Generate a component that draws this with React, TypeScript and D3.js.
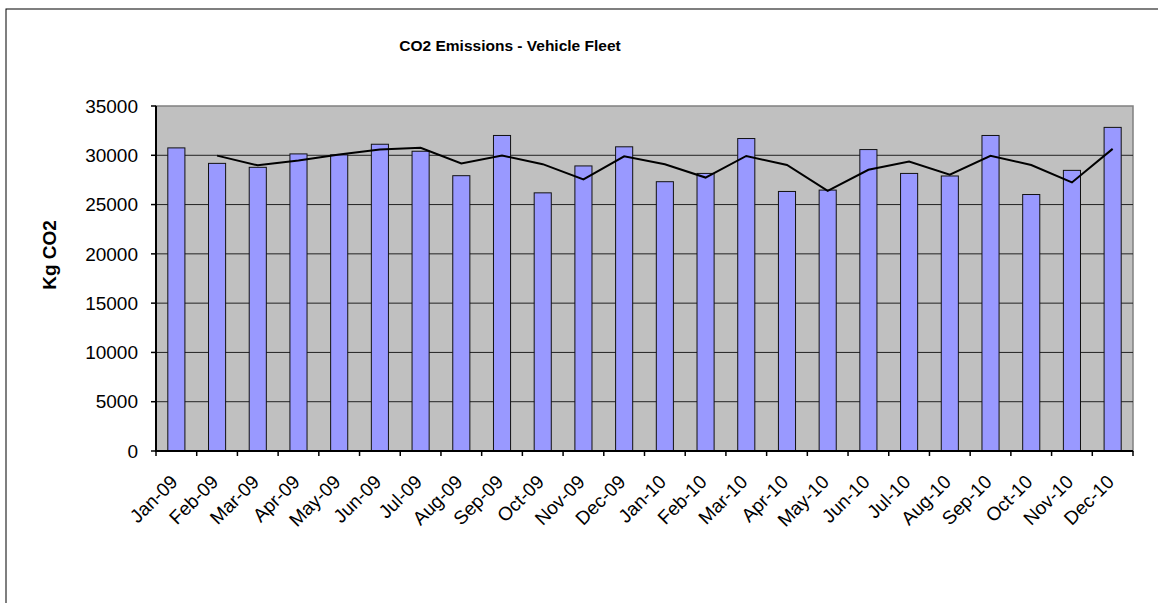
import React from "react";
import * as d3 from "d3";

const categories = [
  "Jan-09","Feb-09","Mar-09","Apr-09","May-09","Jun-09","Jul-09","Aug-09","Sep-09","Oct-09","Nov-09","Dec-09",
  "Jan-10","Feb-10","Mar-10","Apr-10","May-10","Jun-10","Jul-10","Aug-10","Sep-10","Oct-10","Nov-10","Dec-10",
];
const emissions = [
  30750, 29180, 28780, 30140, 30040, 31120, 30410, 27930, 32010, 26190, 28920, 30860,
  27320, 28160, 31700, 26330, 26470, 30580, 28160, 27900, 32010, 26020, 28470, 32830,
];
const yTicks = [0, 5000, 10000, 15000, 20000, 25000, 30000, 35000];
const title = "CO2 Emissions - Vehicle Fleet";
const yLabel = "Kg CO2";

// 2-period moving average trendline (as in the source chart)
const movingAvg = emissions.map((v, i) => (i === 0 ? null : (v + emissions[i - 1]) / 2));

const W = 1158, H = 603;
const plot = { left: 156, right: 1133, top: 106, bottom: 451 };
const FONT = "'Liberation Sans', Arial, sans-serif";

export default function App() {
  const x = d3.scaleBand<string>().domain(categories).range([plot.left, plot.right]).padding(0);
  const y = d3.scaleLinear().domain([0, 35000]).range([plot.bottom, plot.top]);
  const bw = x.bandwidth() * 0.42;
  const cx = (c: string) => (x(c) as number) + x.bandwidth() / 2;

  const line = d3
    .line<number | null>()
    .defined((d) => d !== null)
    .x((_, i) => cx(categories[i]))
    .y((d) => y(d as number));

  const boundaries = categories.map((c) => x(c) as number).concat([plot.right]);

  return (
    <svg width={W} height={H} style={{ position: "absolute", left: 0, top: 0, background: "#fff" }}>
      <rect x={6} y={9} width={W + 20} height={H + 20} fill="#fff" stroke="#000" strokeWidth={1} />
      <text x={510} y={51} textAnchor="middle" fontFamily={FONT} fontWeight="bold" fontSize={15.5}>
        {title}
      </text>
      <rect
        x={plot.left}
        y={plot.top}
        width={plot.right - plot.left}
        height={plot.bottom - plot.top}
        fill="#C0C0C0"
        stroke="#808080"
        strokeWidth={1.5}
      />
      {yTicks.slice(1, -1).map((t) => (
        <line key={t} x1={plot.left} x2={plot.right} y1={y(t)} y2={y(t)} stroke="#222" strokeWidth={1} />
      ))}
      {categories.map((c, i) => (
        <rect
          key={c}
          x={cx(c) - bw / 2}
          y={y(emissions[i])}
          width={bw}
          height={plot.bottom - y(emissions[i])}
          fill="#9999FF"
          stroke="#111"
          strokeWidth={1}
        />
      ))}
      <path d={line(movingAvg) || ""} fill="none" stroke="#000" strokeWidth={2} />
      {/* axes */}
      <line x1={plot.left} x2={plot.left} y1={plot.top} y2={plot.bottom + 1} stroke="#000" strokeWidth={2} />
      <line x1={plot.left - 1} x2={plot.right} y1={plot.bottom} y2={plot.bottom} stroke="#000" strokeWidth={2} />
      {yTicks.map((t) => (
        <g key={t}>
          <line x1={plot.left - 5} x2={plot.left} y1={y(t)} y2={y(t)} stroke="#000" strokeWidth={1.5} />
          <text x={138} y={y(t)} dy="0.35em" textAnchor="end" fontFamily={FONT} fontSize={19} fill="#000">
            {t}
          </text>
        </g>
      ))}
      {boundaries.map((b, i) => (
        <line key={i} x1={b} x2={b} y1={plot.bottom} y2={plot.bottom + 5} stroke="#000" strokeWidth={1.5} />
      ))}
      {categories.map((c) => (
        <text
          key={c}
          transform={`translate(${cx(c) + 2.5},${483}) rotate(-45)`}
          textAnchor="end"
          fontFamily={FONT}
          fontSize={19}
          fill="#000"
        >
          {c}
        </text>
      ))}
      <text
        transform={`translate(56,255) rotate(-90)`}
        textAnchor="middle"
        fontFamily={FONT}
        fontWeight="bold"
        fontSize={19}
      >
        {yLabel}
      </text>
    </svg>
  );
}
